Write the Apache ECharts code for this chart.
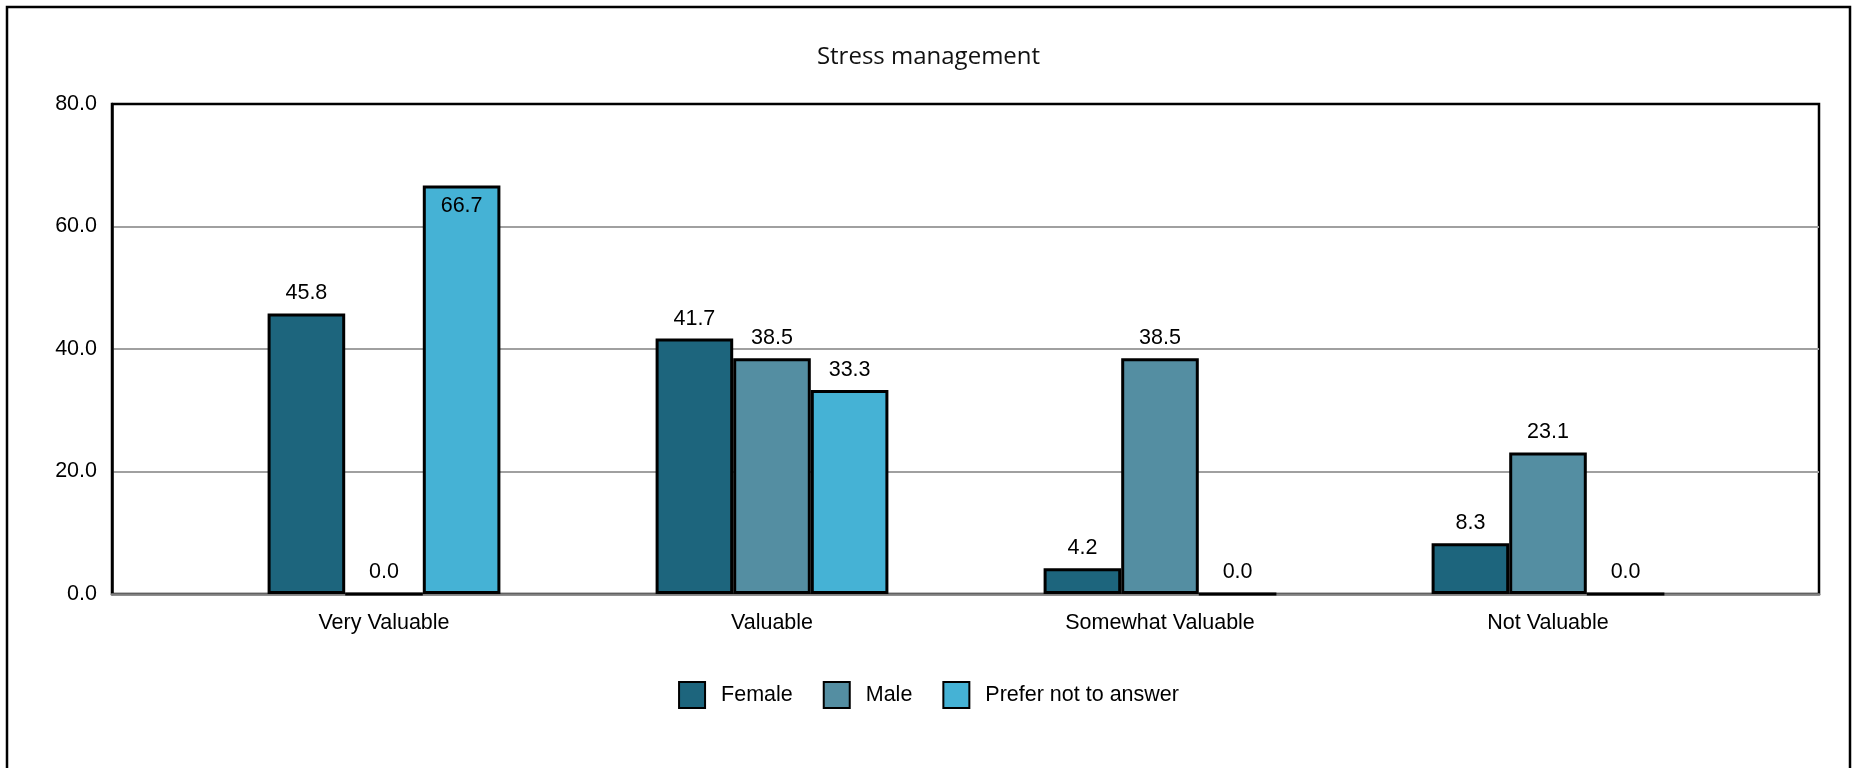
<!DOCTYPE html>
<html lang="en">

<head>
    <meta charset="UTF-8">
    <title>Stress management</title>
    <script src="https://cdn.jsdelivr.net/npm/echarts@6/dist/echarts.min.js"></script>
    <style>
        html, body { margin: 0; padding: 0; background: #fff; }
    </style>
</head>

<body>
    <div id="main" style="width: 1857px; height: 768px;"></div>
    <script>
        // chart data
        const categories = ['Very Valuable', 'Valuable', 'Somewhat Valuable', 'Not Valuable']
        const seriesNames = ['Female', 'Male', 'Prefer not to answer']
        const female = [45.8, 41.7, 4.2, 8.3]
        const male = [0.0, 38.5, 38.5, 23.1]
        const preferNot = [66.7, 33.3, 0.0, 0.0]
        const yTicks = [0, 20, 40, 60, 80]

        const colors = ['#1d657d', '#548ea2', '#45b2d5']
        const font = '"Liberation Sans", Arial, sans-serif'
        const fs = 21.5

        const element = document.querySelector('#main')
        const myChart = echarts.init(element)

        // labels near the top of the axis go inside the bar
        const makeData = (values) => values.map(v => {
            if (v > 60) {
                return { value: v, label: { position: 'insideTop', distance: 10 } }
            }
            return v
        })

        const makeSeries = (name, values, i) => ({
            name: name,
            type: 'bar',
            xAxisIndex: 1,
            yAxisIndex: 1,
            barGap: '0%',
            barCategoryGap: '40%',
            data: makeData(values),
            itemStyle: {
                color: colors[i],
                borderColor: '#000',
                borderWidth: 3
            },
            label: {
                show: true,
                position: 'top',
                distance: 9,
                color: '#000',
                fontFamily: font,
                fontSize: fs,
                formatter: (p) => p.value.toFixed(1)
            }
        })

        const yRange = {
            min: yTicks[0],
            max: yTicks[yTicks.length - 1],
            interval: yTicks[1] - yTicks[0]
        }

        const option = {
            animation: false,
            backgroundColor: '#fff',
            graphic: [{
                type: 'rect',
                shape: { x: 7, y: 7, width: 1843, height: 800 },
                style: { fill: 'none', stroke: '#000', lineWidth: 2.5 },
                silent: true
            }],
            title: {
                text: 'Stress management',
                left: 'center',
                top: 40,
                textStyle: {
                    fontFamily: '"Open Sans", "Noto Sans", sans-serif',
                    fontWeight: 'normal',
                    fontSize: 24,
                    color: '#111'
                }
            },
            legend: {
                data: seriesNames,
                left: 'center',
                top: 676,
                icon: 'rect',
                itemWidth: 26,
                itemHeight: 26,
                itemGap: 30,
                textStyle: {
                    fontFamily: font,
                    fontSize: fs,
                    color: '#000',
                    padding: [0, 0, 0, 11]
                }
            },
            // outer grid: frame, value labels and grid lines; inner grid: the bars
            grid: [{
                left: 112,
                right: 38,
                top: 104,
                bottom: 174,
                show: true,
                borderColor: '#000',
                borderWidth: 2.5
            }, {
                left: 190,
                right: 115,
                top: 104,
                bottom: 174
            }],
            xAxis: [{
                gridIndex: 0,
                type: 'value',
                min: 0,
                max: 1,
                axisLine: { show: true, lineStyle: { color: '#808080', width: 2.5 } },
                axisTick: { show: false },
                axisLabel: { show: false },
                splitLine: { show: false }
            }, {
                gridIndex: 1,
                type: 'category',
                data: categories,
                axisTick: { show: false },
                axisLine: { show: false },
                axisLabel: {
                    margin: 18,
                    color: '#000',
                    fontFamily: font,
                    fontSize: fs
                }
            }],
            yAxis: [{
                gridIndex: 0,
                type: 'value',
                ...yRange,
                axisLine: { show: true, lineStyle: { color: '#000', width: 2.5 } },
                axisTick: { show: false },
                axisLabel: {
                    margin: 15,
                    color: '#000',
                    fontFamily: font,
                    fontSize: fs,
                    formatter: (v) => v.toFixed(1)
                },
                splitLine: {
                    showMinLine: false,
                    showMaxLine: false,
                    lineStyle: { color: '#a0a0a0', width: 2 }
                }
            }, {
                gridIndex: 1,
                type: 'value',
                ...yRange,
                show: false
            }],
            series: [
                makeSeries(seriesNames[0], female, 0),
                makeSeries(seriesNames[1], male, 1),
                makeSeries(seriesNames[2], preferNot, 2)
            ]
        }

        myChart.setOption(option)
    </script>
</body>

</html>
